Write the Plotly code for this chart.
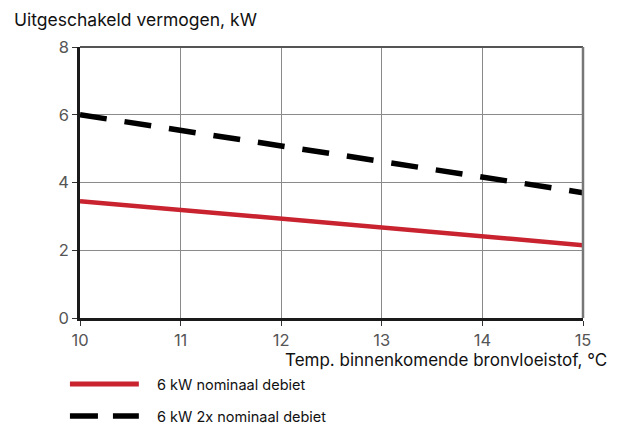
import plotly.graph_objects as go

# Incoming source-fluid temperature (°C) and switched-off capacity (kW)
temp_c = [10, 11, 12, 13, 14, 15]
nominal_kw = [3.45, 3.19, 2.93, 2.67, 2.41, 2.15]
double_flow_kw = [6.0, 5.54, 5.08, 4.62, 4.16, 3.70]

series_names = ["6 kW nominaal debiet", "6 kW 2x nominaal debiet"]
y_title = "Uitgeschakeld vermogen, kW"
x_title = "Temp. binnenkomende bronvloeistof, °C"

RED = "#c8232f"
FONT = "Inter"

fig = go.Figure()
fig.add_trace(go.Scatter(x=temp_c, y=nominal_kw, mode="lines", name=series_names[0],
                         line=dict(color=RED, width=4.5)))
fig.add_trace(go.Scatter(x=temp_c, y=double_flow_kw, mode="lines", name=series_names[1],
                         line=dict(color="black", width=5.5, dash="27px,18px")))

axis_common = dict(showgrid=True, gridcolor="#8a8a8a", gridwidth=1,
                   showline=True, linecolor="#1a1a1a", linewidth=2.5,
                   ticks="outside", ticklen=5, tickcolor="#333", tickwidth=1,
                   tickfont=dict(family=FONT, size=16.5, color="#555"),
                   zeroline=False, fixedrange=True)

fig.update_xaxes(range=[10, 15], dtick=1, **axis_common)
fig.update_yaxes(range=[0, 8], dtick=2, **axis_common)

# Top and right frame lines
fig.add_shape(type="line", xref="x domain", yref="y domain", x0=0, x1=1, y0=1, y1=1,
              line=dict(color="#555", width=2))
fig.add_shape(type="line", xref="x domain", yref="y domain", x0=1, x1=1, y0=0, y1=1,
              line=dict(color="#777", width=2.5))

# Axis titles
fig.add_annotation(text=y_title, xref="paper", yref="paper", x=-0.136, y=1.0,
                   yshift=15, xanchor="left", yanchor="bottom", showarrow=False,
                   font=dict(family=FONT, size=17.5, color="#111"))
fig.add_annotation(text=x_title, xref="x domain", yref="paper", x=1.0, y=0,
                   xshift=26, yshift=-30, xanchor="right", yanchor="top", showarrow=False,
                   font=dict(family=FONT, size=17, color="#111"))

# Legend drawn below the plot
legend_styles = [dict(color=RED, width=5), dict(color="black", width=5.5, dash="28px,15px")]
for i, (name, style) in enumerate(zip(series_names, legend_styles)):
    yshift = -66 - i * 32
    fig.add_shape(type="line", xref="paper", yref="paper", x0=-0.02, x1=0.117,
                  ysizemode="pixel", yanchor=0, y0=yshift, y1=yshift, line=style)
    fig.add_annotation(text=name, xref="paper", yref="paper", x=0.149, y=0,
                       yshift=yshift, xanchor="left", yanchor="middle",
                       showarrow=False, font=dict(family=FONT, size=14.5, color="#111"))

fig.update_layout(width=618, height=425,
                  margin=dict(l=80, r=35, t=47, b=107),
                  plot_bgcolor="white", paper_bgcolor="white",
                  showlegend=False)

fig.write_html("out.html")
